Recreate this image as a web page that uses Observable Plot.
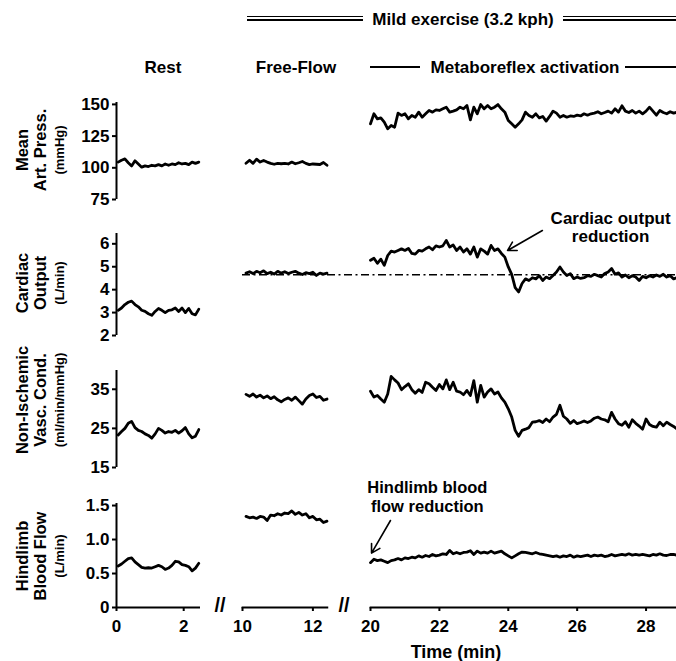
<!DOCTYPE html>
<html><head><meta charset="utf-8">
<script src="https://cdn.jsdelivr.net/npm/d3@7"></script>
<script src="https://cdn.jsdelivr.net/npm/@observablehq/plot@0.6"></script>
<style>
html,body{margin:0;padding:0;background:#fff;}
#chart{position:relative;width:676px;height:661px;overflow:hidden;font-family:"Liberation Sans",Arial,sans-serif;font-weight:bold;color:#000;}
#chart svg{position:absolute;left:0;top:0;}
.lbl{position:absolute;white-space:nowrap;transform:translate(-50%,-50%);line-height:1;}
.rot{transform:translate(-50%,-50%) rotate(-90deg);}
.hl{position:absolute;background:#000;}
</style></head><body><div id="chart"></div><script>
// ---------- DATA ----------
const step = 0.1;
const restStart = 0.05, freeStart = 10.1, exStart = 20.0;

const mapRest = [104.5,106,107,104,101.5,105.5,103,100.5,101.5,101,102,101.5,102.5,101.5,103,102,103,102.5,104,103,103.5,102.5,104.5,103.5,104.5];
const mapFree = [103.6,106,103.5,106.8,104.5,105.8,104.5,103.5,102.8,103.5,103.2,103.5,103,104.5,103.2,104,105,103.5,102.5,103,102.8,102.6,104.2,102];
const mapEx = [134.7,142.6,138.6,139.4,136,130.7,133.4,132,143.1,141.3,
  142.6,138.6,141.3,139.9,143.9,139.9,142.6,145.2,143.9,145.7,
  145.2,146.5,147.8,143.9,144.7,145.7,147.8,146.5,149.1,137.8,
  147.8,142.6,149.9,146.5,149.1,146.5,147.8,149.9,146.5,143.9,
  137.3,134.7,132,134.7,137.8,143.9,141.3,139.9,142.6,139.4,
  140.5,136.8,140.5,144.7,143.1,139.9,141.3,139.9,140.9,140.5,
  141.5,140.9,142.6,141.5,142.6,143.1,144.2,142.6,143.6,144.7,
  143.1,146.5,143.9,148.9,144.7,143.6,145.2,143.1,144.7,142.6,
  144.7,147.8,144.7,141.5,145.2,143.6,142.6,144.2,143.1,143.9,144.5];

const coRest = [3.1,3.2,3.35,3.45,3.5,3.35,3.25,3.1,3.05,2.95,2.88,3.05,3.18,3.1,3.0,3.1,3.12,3.2,3.05,3.2,3.0,3.18,2.95,2.9,3.15];
const coFree = [4.72,4.78,4.7,4.8,4.74,4.82,4.7,4.76,4.68,4.8,4.72,4.78,4.7,4.76,4.8,4.72,4.66,4.74,4.7,4.76,4.62,4.72,4.68,4.72];
const coEx = [5.28,5.37,5.15,5.33,5.06,5.49,5.68,5.64,5.71,5.78,
  5.71,5.8,5.58,5.55,5.71,5.68,5.78,5.86,5.74,5.91,
  5.86,5.91,6.15,5.86,5.95,5.71,5.86,5.64,5.78,5.55,
  5.86,5.42,5.78,5.68,5.55,5.93,5.71,5.78,5.58,5.42,
  4.99,4.67,4.09,3.9,4.27,4.47,4.4,4.52,4.47,4.61,
  4.4,4.55,4.48,4.62,4.77,4.99,4.77,4.62,4.7,4.48,
  4.55,4.49,4.52,4.61,4.58,4.67,4.61,4.55,4.7,4.77,
  4.92,4.67,4.73,4.55,4.64,4.52,4.61,4.55,4.4,4.58,
  4.52,4.61,4.55,4.64,4.58,4.67,4.55,4.61,4.47,4.52,4.55];
const coBaseline = 4.65;

const nivcRest = [23.3,24.2,25,26.3,26.8,25.2,24.5,24.2,23.6,23.2,22.5,23.6,25,24.5,23.8,24.2,24,24.5,23.8,24.4,25.2,23.6,22.6,23,24.7];
const nivcFree = [33.7,33.2,33.8,33,33.5,32.8,33.3,32.6,33.1,32.3,31.8,32.4,32.8,32.2,33,32.1,31.2,32.5,33.4,33.8,32.9,33.2,32.2,32.5];
const nivcEx = [34.5,33,33.4,32.5,31.7,33.8,38.3,37.4,36.6,34.9,
  35.7,36.4,34.9,34,34.9,34.2,36.8,36.4,35.5,34.7,
  36.2,35.1,37.4,34.9,36.8,34.5,34.3,33.6,34.7,33.4,
  37.2,31.7,36,33,34.3,35.1,33.8,34.3,32.8,31.7,
  30,27.9,24.5,23,24.5,24.8,25.2,26.6,26.7,27,
  26.5,27.4,26.7,27.9,28.6,30.9,28.1,27.4,26.3,27,
  26.2,26.5,26.9,26.5,26.9,27.6,27.9,27.4,27.2,26.7,
  29.1,27.4,26.2,25.8,26.7,25.3,27.2,26.3,25.6,24.8,
  27.4,26,25.5,25.3,26.6,25.7,26.6,26,25.5,24.8,25.5];

const hbfRest = [0.61,0.64,0.68,0.72,0.73,0.67,0.63,0.59,0.58,0.585,0.58,0.6,0.62,0.6,0.56,0.58,0.62,0.68,0.67,0.63,0.62,0.6,0.54,0.58,0.65];
const hbfFree = [1.34,1.32,1.33,1.31,1.34,1.33,1.28,1.36,1.35,1.38,1.36,1.39,1.38,1.42,1.37,1.4,1.36,1.38,1.32,1.34,1.29,1.3,1.25,1.27];
const hbfEx = [0.66,0.71,0.69,0.7,0.68,0.66,0.69,0.7,0.72,0.7,
  0.73,0.72,0.74,0.73,0.76,0.74,0.765,0.75,0.78,0.76,
  0.77,0.79,0.78,0.84,0.79,0.81,0.79,0.81,0.815,0.835,
  0.78,0.83,0.8,0.815,0.8,0.83,0.8,0.815,0.83,0.79,
  0.76,0.73,0.76,0.79,0.815,0.81,0.8,0.79,0.81,0.79,
  0.78,0.77,0.76,0.75,0.76,0.74,0.76,0.75,0.77,0.74,
  0.76,0.75,0.76,0.77,0.75,0.77,0.76,0.77,0.75,0.76,
  0.78,0.76,0.77,0.78,0.77,0.79,0.77,0.78,0.77,0.78,
  0.77,0.76,0.78,0.77,0.79,0.77,0.765,0.78,0.78,0.77,0.77];

const xTicks = [0, 2, 10, 12, 20, 22, 24, 26, 28];
const xBreakDomain = [0, 2.5, 10, 12.5, 20, 29];
const axisSegments = [{a: 0, b: 2.5}, {a: 9.94, b: 12.45}, {a: 19.94, b: 29}];

const coNote = [{t: 26.97, v: 6.73, text: "Cardiac output\nreduction"}];
const coArrow = [{t1: 24.99, v1: 6.58, t2: 23.98, v2: 5.71}];
const hbfNote = [{t: 21.65, v: 1.63, text: "Hindlimb blood\nflow reduction"}];
const hbfArrow = [{t1: 20.58, v1: 1.28, t2: 20.03, v2: 0.8}];

// ---------- LAYOUT ----------
const W = 676, H = 661;
const xBreakRange = [116, 200, 242, 330, 370, 680];
const panels = [
  {rest: mapRest, free: mapFree, ex: mapEx, domain: [75, 151.5], ticks: [75, 100, 125, 150], top: 102, bottom: 199, labelY: 150,
   lines: ["Mean", "Art. Press.", "(mmHg)"]},
  {rest: coRest, free: coFree, ex: coEx, domain: [2, 6.45], ticks: [2, 3, 4, 5, 6], top: 233, bottom: 335, labelY: 283,
   lines: ["Cardiac", "Output", "(L/min)"]},
  {rest: nivcRest, free: nivcFree, ex: nivcEx, domain: [15, 39.8], ticks: [15, 25, 35], top: 370, bottom: 467, labelY: 400,
   lines: ["Non-Ischemic", "Vasc. Cond.", "(ml/min/mmHg)"]},
  {rest: hbfRest, free: hbfFree, ex: hbfEx, domain: [0, 1.53], ticks: [0, 0.5, 1, 1.5], top: 503, bottom: 607, labelY: 556,
   lines: ["Hindlimb", "Blood Flow", "(L/min)"], fmt: d => d === 0 ? "0" : d3.format(".1f")(d)}
];

const toRows = (vals, t0, seg) => vals.map((v, i) => ({t: +(t0 + i * step).toFixed(3), v, seg}));

const chart = document.getElementById("chart");
const FONT = '"Liberation Sans", Arial, sans-serif';

panels.forEach((p, i) => {
  const bottomPanel = i === panels.length - 1;
  const rows = [...toRows(p.rest, restStart, "rest"), ...toRows(p.free, freeStart, "free"), ...toRows(p.ex, exStart, "ex")];
  const marks = [
    Plot.ruleX([0], {stroke: "black", strokeWidth: 2}),
    Plot.axisY(p.ticks, {tickSize: 4, tickPadding: 3, tickFormat: p.fmt, label: null, stroke: "black", strokeWidth: 2}),
    Plot.line(rows, {x: "t", y: "v", z: "seg", stroke: "black", strokeWidth: 2.8, strokeLinejoin: "round", strokeLinecap: "round"})
  ];
  if (i === 1) {
    marks.push(Plot.ruleY([coBaseline], {x1: 10, x2: 29, stroke: "black", strokeWidth: 1.6, strokeDasharray: "8,3.5,2,3.5"}));
    marks.push(Plot.text(coNote, {x: "t", y: "v", text: "text", fontSize: 17, fontWeight: "bold", lineHeight: 1.08}));
    marks.push(Plot.arrow(coArrow, {x1: "t1", y1: "v1", x2: "t2", y2: "v2", stroke: "black", strokeWidth: 1.6, headLength: 9}));
  }
  if (bottomPanel) {
    marks.push(Plot.ruleY(axisSegments, {y: 0, x1: "a", x2: "b", stroke: "black", strokeWidth: 2}));
    marks.push(Plot.axisX(xTicks, {tickSize: 4, tickPadding: 8, label: null, stroke: "black", strokeWidth: 2}));
    marks.push(Plot.text(hbfNote, {x: "t", y: "v", text: "text", fontSize: 16.5, fontWeight: "bold", lineHeight: 1.1}));
    marks.push(Plot.arrow(hbfArrow, {x1: "t1", y1: "v1", x2: "t2", y2: "v2", stroke: "black", strokeWidth: 1.6, headLength: 9}));
  }
  const svg = Plot.plot({
    width: W, height: H,
    marginTop: p.top, marginBottom: H - p.bottom, marginLeft: 116, marginRight: 0,
    x: {type: "linear", domain: xBreakDomain, range: xBreakRange, axis: bottomPanel ? undefined : null},
    y: {domain: p.domain},
    style: {fontFamily: FONT, fontSize: "17px", fontWeight: "bold", color: "black", background: "transparent", overflow: "visible"},
    marks
  });
  chart.appendChild(svg);

  // rotated y-axis titles
  const xs = [21.5, 40, 59], sizes = [16.5, 16.5, 13];
  p.lines.forEach((ln, k) => {
    const d = document.createElement("div");
    d.className = "lbl rot";
    d.textContent = ln;
    d.style.left = xs[k] + "px";
    d.style.top = p.labelY + "px";
    d.style.fontSize = sizes[k] + "px";
    chart.appendChild(d);
  });
});

// headers and decorations
function label(text, x, y, size, extra) {
  const d = document.createElement("div");
  d.className = "lbl";
  d.textContent = text;
  d.style.left = x + "px"; d.style.top = y + "px"; d.style.fontSize = size + "px";
  if (extra) Object.assign(d.style, extra);
  chart.appendChild(d);
}
function hline(x1, x2, y, h) {
  const d = document.createElement("div");
  d.className = "hl";
  d.style.left = x1 + "px"; d.style.width = (x2 - x1) + "px";
  d.style.top = y + "px"; d.style.height = h + "px";
  chart.appendChild(d);
}
label("Mild exercise (3.2 kph)", 463, 18.5, 17);
hline(247, 363, 15.5, 1.5); hline(247, 363, 19, 1.5);
hline(563, 676, 15.5, 1.5); hline(563, 676, 19, 1.5);
label("Rest", 163, 67, 17);
label("Free-Flow", 296, 67, 17);
label("Metaboreflex activation", 525, 67, 17);
hline(370, 420, 66, 2); hline(625, 676, 66, 2);
label("Time (min)", 456, 652, 18);
label("//", 220, 605, 20, {fontWeight: "bold", letterSpacing: "0px"});
label("//", 344, 605, 20, {fontWeight: "bold", letterSpacing: "0px"});
</script></body></html>
